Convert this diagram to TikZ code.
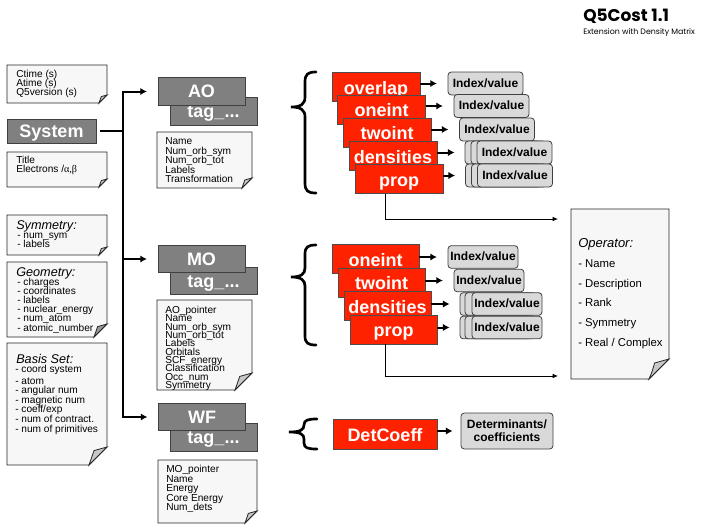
\documentclass[tikz,border=0pt]{standalone}
\usepackage{fontspec}
\setmainfont{Liberation Sans}
\newfontfamily\titlefont{Poppins}
\newfontfamily\greekfont{Liberation Serif}
\usetikzlibrary{arrows.meta}

\definecolor{boxgray}{HTML}{808080}
\definecolor{boxedge}{HTML}{404040}
\definecolor{hotred}{HTML}{FF2200}
\definecolor{valgray}{HTML}{D9D9D9}
\definecolor{paper}{HTML}{F7F7F7}
\definecolor{foldgray}{HTML}{C8C8C8}

\tikzset{
  graybox/.style={draw=boxedge, line width=0.6pt, fill=boxgray, text=white,
    font=\fontsize{13.5}{14}\selectfont\bfseries, minimum width=65.25pt,
    minimum height=20.5pt, inner sep=0pt, text height=9.7pt, text depth=0pt},
  redbox/.style={draw=black!70, line width=0.6pt, fill=hotred, text=white,
    font=\fontsize{13.5}{14}\selectfont\bfseries, minimum width=66pt,
    minimum height=21.75pt, inner sep=0pt, text height=11pt, text depth=0pt},
  valbox/.style={draw=boxedge, line width=0.6pt, fill=valgray, rounded corners=2.5pt,
    font=\fontsize{9}{10}\selectfont\bfseries, inner sep=0pt},
  idxA/.style={valbox, minimum width=56.25pt, minimum height=17.25pt, text height=6.8pt, text depth=1.4pt},
  idxM/.style={valbox, minimum width=52.5pt, minimum height=17pt, text height=6.8pt, text depth=1.4pt},
  notetext/.style={anchor=base west, inner sep=0pt, font=\fontsize{7.6}{8}\selectfont},
  notehead/.style={anchor=base west, inner sep=0pt, font=\fontsize{9.5}{10}\selectfont\itshape},
  optext/.style={anchor=base west, inner sep=0pt, font=\fontsize{8.5}{9}\selectfont},
  trunk/.style={line width=1.5pt},
  arr/.style={line width=1.5pt, -{Latex[length=5pt,width=5.5pt]}},
  thinarr/.style={line width=0.6pt, -{Latex[length=4pt,width=3.5pt]}},
  bracepath/.style={line width=2pt, line cap=round},
  paperfill/.style={draw=black!85, line width=0.6pt, fill=paper},
  foldfill/.style={draw=black!85, line width=0.6pt, fill=foldgray},
}

% sheet of paper with a dog-eared lower right corner: #1 #2 = top left, #3 #4 = bottom right, #5 = fold size
\newcommand\papersheet[5]{%
  \filldraw[paperfill] (#1,#2) -- (#3,#2) -- (#3,{#4-#5}) -- ({#3-#5},#4) -- (#1,#4) -- cycle;
}
\newcommand\paperfold[4][foldgray]{%
  \filldraw[foldfill, fill=#1] ({#2-#4},#3) .. controls ({#2-0.85*#4},{#3-0.35*#4}) ..
    ({#2-0.72*#4},{#3-0.8*#4}) -- (#2,{#3-#4}) -- cycle;
}

\begin{document}
\begin{tikzpicture}[x=0.75pt,y=-0.75pt]
\useasboundingbox (0,0) rectangle (701,526);

% heading
\node[anchor=base west, inner sep=0pt, font=\titlefont\fontsize{12.75}{13}\selectfont\bfseries] (title) at (583,21) {Q5Cost 1.1};
\node[anchor=base west, inner sep=0pt, font=\titlefont\fontsize{5.9}{7}\selectfont] (subtitle) at (583,34) {Extension with Density Matrix};

% ---------- System column ----------
\papersheet{7}{65}{107}{103}{8}
\node[notetext] (n1a) at (16,77.5) {Ctime (s)};
\node[notetext] (n1b) at (16,86.5) {Atime (s)};
\node[notetext] (n1c) at (16,95.5) {Q5version (s)};
\paperfold{107}{103}{8}

\node[graybox, minimum width=66.75pt, minimum height=18pt] (sys) at (51.5,131) {System};

\papersheet{7}{152}{107}{187}{8}
\node[notetext] (n2a) at (16,163.5) {Title};
\node[notetext] (n2b) at (16,172.5) {Electrons /{\greekfont α,β}};
\paperfold{107}{187}{8}

\papersheet{7}{215}{107}{255}{8}
\node[notehead] (n3h) at (16,229.5) {Symmetry:};
\node[notetext] (n3a) at (17,238.5) {- num\_sym};
\node[notetext] (n3b) at (17,247.5) {- labels};
\paperfold{107}{255}{8}

\papersheet{7}{262}{107}{337}{13}
\node[notehead] (n4h) at (16,276) {Geometry:};
\node[notetext] (n4a) at (17,285.5) {- charges};
\node[notetext] (n4b) at (17,294.6) {- coordinates};
\node[notetext] (n4c) at (17,303.7) {- labels};
\node[notetext] (n4d) at (17,312.8) {- nuclear\_energy};
\node[notetext] (n4e) at (17,321.9) {- num\_atom};
\node[notetext] (n4f) at (17,331) {- atomic\_number};
\paperfold[black!40]{107}{337}{13}

\papersheet{7}{343}{107}{465}{18}
\node[notehead] (n5h) at (16,363.5) {Basis Set:};
\node[notetext] (n5a) at (15,372.5) {- coord system};
\node[notetext] (n5b) at (15,384) {- atom};
\node[notetext] (n5c) at (15,393.5) {- angular num};
\node[notetext] (n5d) at (15,403) {- magnetic num};
\node[notetext] (n5e) at (15,412.5) {- coeff/exp};
\node[notetext] (n5f) at (15,422) {- num of contract.};
\node[notetext] (n5g) at (15,432) {- num of primitives};
\paperfold{107}{465}{18}

% ---------- groups ----------
\node[graybox] (aotag) at (213.5,111.5) {tag\_...};
\node[graybox] (ao) at (201.5,91.5) {AO};
\node[graybox] (motag) at (213.5,281) {tag\_...};
\node[graybox] (mo) at (201.5,259) {MO};
\node[graybox] (wftag) at (213.5,437.5) {tag\_...};
\node[graybox] (wf) at (202,417) {WF};

\papersheet{157}{132}{252}{188}{10}
\node[notetext] (a1) at (165,144.6) {Name};
\node[notetext] (a2) at (165,154.1) {Num\_orb\_sym};
\node[notetext] (a3) at (165,163.6) {Num\_orb\_tot};
\node[notetext] (a4) at (165,173.1) {Labels};
\node[notetext] (a5) at (165,182.6) {Transformation};
\paperfold{252}{188}{10}

\papersheet{157}{300}{252}{390}{17}
\node[notetext] (b1) at (165,313.6) {AO\_pointer};
\node[notetext] (b2) at (165,321.9) {Name};
\node[notetext] (b3) at (165,330.3) {Num\_orb\_sym};
\node[notetext] (b4) at (165,338.6) {Num\_orb\_tot};
\node[notetext] (b5) at (165,346.9) {Labels};
\node[notetext] (b6) at (165,355.3) {Orbitals};
\node[notetext] (b7) at (165,363.6) {SCF\_energy};
\node[notetext] (b8) at (165,371.9) {Classification};
\node[notetext] (b9) at (165,380.2) {Occ\_num};
\node[notetext] (b10) at (165,388.6) {Symmetry};
\paperfold{252}{390}{17}

\papersheet{158}{460}{257}{523}{12}
\node[notetext] (c1) at (166,472.6) {MO\_pointer};
\node[notetext] (c2) at (166,482.1) {Name};
\node[notetext] (c3) at (166,491.6) {Energy};
\node[notetext] (c4) at (166,501.1) {Core Energy};
\node[notetext] (c5) at (166,510.6) {Num\_dets};
\paperfold{257}{523}{12}

% trunk from System to the three groups
\coordinate (tk) at (123,0);
\draw[trunk] ([xshift=3pt]sys.east) -- (sys.east -| tk);
\draw[trunk, line join=miter, {Latex[length=5pt,width=5.5pt]}-{Latex[length=5pt,width=5.5pt]}]
  ([xshift=-8pt]ao.west) -- (tk |- ao.west) -- (tk |- wf.west) -- ([xshift=-8pt]wf.west);
\draw[arr] (tk |- mo.west) -- ([xshift=-8pt]mo.west);

% ---------- braces ----------
\draw[bracepath] (316,72) .. controls (308,72) and (305,74) .. (305,82) -- (305,97)
  .. controls (305,104) and (301,107) .. (291,107)
  .. controls (301,107) and (305,110) .. (305,117) -- (305,183)
  .. controls (305,191) and (308,193) .. (316,193);
\draw[bracepath] (316,245) .. controls (308,245) and (305,247) .. (305,254) -- (305,268)
  .. controls (305,274) and (301,277) .. (291,277)
  .. controls (301,277) and (305,280) .. (305,286) -- (305,336)
  .. controls (305,343) and (308,345) .. (316,345);
\draw[bracepath] (317,419) .. controls (308,419) and (304,420) .. (304,425)
  .. controls (304,430) and (300,432) .. (289,432)
  .. controls (300,432) and (304,434) .. (304,439) -- (304,443)
  .. controls (304,448) and (308,449) .. (317,449);

% ---------- AO integrals ----------
\node[redbox] (r1) at (376,87) {overlap};
\node[redbox] (r2) at (381.5,109.5) {oneint};
\node[redbox] (r3) at (387,132.5) {twoint};
\node[redbox] (r4) at (393,156) {densities};
\node[redbox] (r5) at (399,179) {prop};

\node[idxA] (v1) at (485.5,83.5) {Index/value};
\node[idxA] (v2) at (491.5,106) {Index/value};
\node[idxA] (v3) at (497,129.5) {Index/value};
\node[idxA] (v4a) at (502.5,152.5) {};
\node[idxA] (v4b) at (508.5,152.5) {};
\node[idxA] (v4) at (514.5,152.5) {Index/value};
\node[idxA] (v5a) at (503,175.5) {};
\node[idxA] (v5b) at (509,175.5) {};
\node[idxA] (v5) at (515,175.5) {Index/value};

\draw[arr] (r1.east |- v1.west) -- ([xshift=-8pt]v1.west);
\draw[arr] (r2.east |- v2.west) -- ([xshift=-8pt]v2.west);
\draw[arr] (r3.east |- v3.west) -- ([xshift=-8pt]v3.west);
\draw[arr] (r4.east |- v4a.west) -- ([xshift=-7.5pt]v4a.west);
\draw[arr] (r5.east |- v5a.west) -- ([xshift=-7.5pt]v5a.west);

% ---------- MO integrals ----------
\node[redbox, minimum width=65.25pt] (m1) at (375.5,259) {oneint};
\node[redbox, minimum width=65.25pt] (m2) at (381.5,282.5) {twoint};
\node[redbox, minimum width=65.25pt] (m3) at (387.5,306) {densities};
\node[redbox, minimum width=65.25pt] (m4) at (393.5,329.5) {prop};

\node[idxM] (w1) at (483,257) {Index/value};
\node[idxM] (w2) at (489,280.5) {Index/value};
\node[idxM] (w3a) at (495,304) {};
\node[idxM] (w3b) at (500,304) {};
\node[idxM] (w3) at (507,304) {Index/value};
\node[idxM] (w4a) at (495,327.5) {};
\node[idxM] (w4b) at (500,327.5) {};
\node[idxM] (w4) at (507,327.5) {Index/value};

\draw[arr] (m1.east |- w1.west) -- ([xshift=-8pt]w1.west);
\draw[arr] (m2.east |- w2.west) -- ([xshift=-8pt]w2.west);
\draw[arr] (m3.east |- w3a.west) -- ([xshift=-7.5pt]w3a.west);
\draw[arr] (m4.east |- w4a.west) -- ([xshift=-7.5pt]w4a.west);

% ---------- wave function ----------
\node[redbox, minimum width=78pt, minimum height=22.5pt] (dc) at (385,434) {DetCoeff};
\node[valbox, align=center, minimum width=69pt, minimum height=27pt,
  font=\fontsize{9}{10}\selectfont\bfseries] (det) at (507,431) {Determinants/\\coefficients};
\draw[arr] (dc.east |- det.west) -- ([xshift=-6pt]det.west);

% ---------- operator sheet ----------
\papersheet{571}{209}{669}{379}{20}
\node[anchor=base west, inner sep=0pt, font=\fontsize{9.75}{10}\selectfont\itshape] (oph) at (578,247.7) {Operator:};
\node[optext] (o1) at (578,267) {- Name};
\node[optext] (o2) at (578,287) {- Description};
\node[optext] (o3) at (578,306.5) {- Rank};
\node[optext] (o4) at (578,326) {- Symmetry};
\node[optext] (o5) at (578,346) {- Real / Complex};
\paperfold{669}{379}{20}

\coordinate (opx) at (385,0);
\coordinate (opA) at (558,219);
\coordinate (opB) at (558,376);
\draw[thinarr] (r5.south -| opx) |- (opA);
\draw[thinarr] (m4.south -| opx) |- (opB);
\end{tikzpicture}
\end{document}
